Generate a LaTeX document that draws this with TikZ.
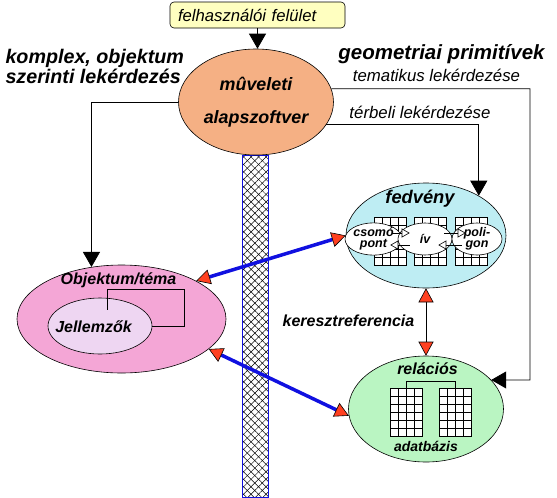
\documentclass[tikz,border=0pt]{standalone}
\usepackage{fontspec}
\setmainfont{Liberation Sans}
\usepackage{tikz}
\usetikzlibrary{shapes.geometric}
\usetikzlibrary{arrows.meta}
\usetikzlibrary{patterns.meta}
\tikzset{>=latex}
\definecolor{uiyellow}{RGB}{255,255,192}
\definecolor{opsorange}{RGB}{245,176,132}
\definecolor{fedblue}{RGB}{190,237,243}
\definecolor{objpink}{RGB}{244,166,214}
\definecolor{proplilac}{RGB}{238,214,242}
\definecolor{relgreen}{RGB}{186,245,194}
\definecolor{tipred}{RGB}{255,64,32}
\definecolor{linkblue}{RGB}{16,16,224}
\tikzset{blob/.style = {shape=ellipse,draw,inner sep=0pt,line width=0.6pt}}
\tikzset{bitext/.style = {font=\fontsize{16}{18}\selectfont\bfseries\itshape}}
\tikzset{bigtext/.style = {font=\fontsize{19.7}{20}\selectfont\bfseries\itshape,align=left}}
\tikzset{thintext/.style = {font=\fontsize{16.8}{18}\selectfont\itshape}}
\tikzset{smalltext/.style = {font=\fontsize{12.5}{11}\selectfont\bfseries\itshape,align=center}}
\tikzset{edge/.style = {-{Triangle[length=15pt,width=17pt]},line width=0.8pt}}
\tikzset{redtip/.tip = {Triangle[length=14pt,width=15pt,fill=tipred,color=black,line width=0.6pt]}}
\tikzset{link/.style = {redtip-redtip,draw=linkblue,line width=3.5pt}}
\tikzset{xref/.style = {redtip-redtip,line width=0.8pt}}
\tikzset{flow/.style = {-{Triangle[open,length=8pt,width=9pt,fill=white]},line width=0.6pt}}
\newcommand{\cellgrid}[1]{%
  \draw[fill=white,line width=0.6pt] (#1) rectangle ++(32,48);
  \foreach \k in {8,16,24} \draw[line width=0.6pt] (#1) ++(\k,0) -- ++(0,48);
  \foreach \k in {8,16,...,40} \draw[line width=0.6pt] (#1) ++(0,\k) -- ++(32,0);
}

\begin{document}
\begin{tikzpicture}[x=1pt,y=-1pt]
  \useasboundingbox (0,0) rectangle (557,498);

  % Column
  \fill[white] (242,155) rectangle (268,497);
  \fill[pattern={Lines[angle=45,distance=5.3pt,line width=0.5pt]}] (242,155) rectangle (268,497);
  \fill[pattern={Lines[angle=-45,distance=5.3pt,line width=0.5pt]}] (242,155) rectangle (268,497);
  \draw[linkblue,line width=1pt] (242,155) rectangle (268,497);

  % Vertices
  \node[draw,fill=uiyellow,rounded corners=4pt,line width=0.6pt,minimum height=26pt,
        text width=159pt,align=left,inner xsep=8pt,font=\fontsize{16.7}{18}\selectfont\itshape]
        (ui) at (257.5,15) {felhasználói felület};
  \node[blob,fill=opsorange,minimum width=155pt,minimum height=106pt] (ops) at (256,102) {};
  \node[blob,fill=objpink,minimum width=209pt,minimum height=108pt] (obj) at (121.5,319) {};
  \node[blob,fill=proplilac,minimum width=104pt,minimum height=56pt] (jell) at (100,326) {};
  \node[blob,fill=fedblue,minimum width=160pt,minimum height=105pt] (fed) at (426,235.5) {};
  \node[blob,fill=relgreen,minimum width=155pt,minimum height=106pt] (rel) at (426,409) {};

  % Tables
  \coordinate (gridA) at (374,217);
  \coordinate (gridB) at (414,217);
  \coordinate (gridC) at (455,217);
  \coordinate (tabA) at (390,388);
  \coordinate (tabB) at (439,388);
  \cellgrid{gridA}
  \cellgrid{gridB}
  \cellgrid{gridC}
  \cellgrid{tabA}
  \cellgrid{tabB}
  \draw[line width=0.6pt] ([xshift=16pt]tabA) -- ++(0,-7) -| ([xshift=16pt]tabB);

  \node[blob,fill=white,minimum width=53pt,minimum height=32pt,smalltext] (csomo) at (373.5,239) {csomó\\pont};
  \node[blob,fill=white,minimum width=54pt,minimum height=32pt,smalltext] (iv) at (425,239) {ív};
  \node[blob,fill=white,minimum width=50pt,minimum height=32pt,smalltext] (poli) at (477,239) {poli-\\gon};

  \draw[flow] ([xshift=-10pt,yshift=6pt]csomo.east) -- ([xshift=12pt,yshift=6pt]iv.west);
  \draw[flow] ([xshift=12pt,yshift=-6pt]iv.west) -- ([xshift=-12pt,yshift=-6pt]csomo.east);
  \draw[flow] ([xshift=-8pt,yshift=6pt]iv.east) -- ([xshift=14pt,yshift=6pt]poli.west);
  \draw[flow] ([xshift=10pt,yshift=-6pt]poli.west) -- ([xshift=-14pt,yshift=-6pt]iv.east);

  % Labels
  \node[bitext,font=\fontsize{17.9}{20}\selectfont\bfseries\itshape,align=center,anchor=base]
        (opstext) at (256,123) {mûveleti\\[13pt]alapszoftver};
  \node[bigtext,anchor=base west] (complex) at (2,83) {komplex, objektum\\szerinti lekérdezés};
  \node[bigtext,font=\fontsize{20.5}{20}\selectfont\bfseries\itshape,anchor=base] (geom) at (441.5,59) {geometriai primitívek};
  \node[thintext,anchor=base] (thema) at (436.5,81) {tematikus lekérdezése};
  \node[thintext,anchor=base] (spatial) at (420,118) {térbeli lekérdezése};
  \node[bitext,font=\fontsize{18.3}{20}\selectfont\bfseries\itshape,anchor=base] (fedtext) at (420,203) {fedvény};
  \node[bitext,anchor=base] (objtext) at (118.5,284) {Objektum/téma};
  \node[bitext,anchor=base] (jelltext) at (93.5,332) {Jellemzők};
  \node[bitext,anchor=base] (xreftext) at (348.5,326) {kereszt\-referencia};
  \node[bitext,anchor=base] (reltext) at (427.5,374) {relációs};
  \node[bitext,font=\fontsize{14}{16}\selectfont\bfseries\itshape,anchor=base] (dbtext) at (426,451) {adatbázis};

  % Edges
  \coordinate (loopturn) at (184,289);
  \coordinate (loopend) at (107,310);
  \draw[line width=0.6pt] (jell.east) -| (loopturn) -| (loopend);

  \coordinate (themturn) at (530,380);
  \draw[edge] (ui) -- (ui |- ops.north);
  \draw[edge] (ops.west) -| (obj.120);
  \draw[edge] (ops.10) -| (themturn) -- (rel.24);
  \draw[edge] (ops.-18) -| (fed.37);

  \draw[xref] (fed.south) -- (rel.north);
  \draw[link] (obj.27) -- (fed.180);
  \draw[link] (obj.-19) -- (rel.185);
\end{tikzpicture}
\end{document}
